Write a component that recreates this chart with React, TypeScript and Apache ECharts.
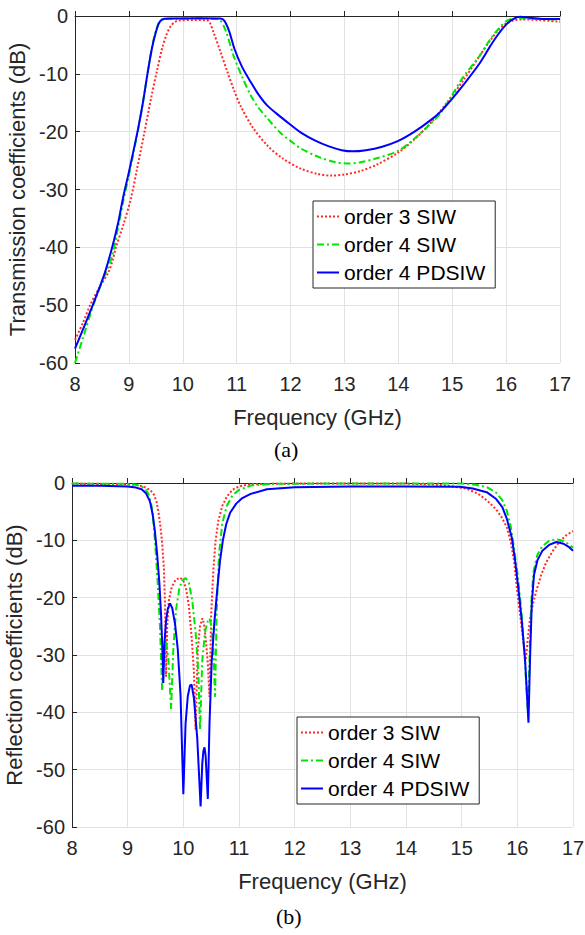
import React, { useEffect, useRef } from "react";
import * as echarts from "echarts";

// ---- Data: [frequency GHz, dB] ----
const seriesNames = ["order 3 SIW", "order 4 SIW", "order 4 PDSIW"];

const s21Order3: [number, number][] = [
  [8.0, -56], [8.15, -53], [8.28, -50], [8.45, -47], [8.62, -44.3], [8.69, -42.5], [8.76, -40], [8.9, -36],
  [9.04, -31.5], [9.15, -26.5], [9.28, -20.5], [9.41, -14.3], [9.52, -9.5], [9.62, -5.5], [9.7, -3.2],
  [9.78, -1.7], [9.86, -1.0], [9.95, -0.75], [10.2, -0.7], [10.45, -0.75], [10.5, -1.1], [10.57, -2.8],
  [10.7, -6.2], [10.83, -9.7], [10.95, -12.8], [11.07, -15.5], [11.3, -19.3], [11.57, -22.4], [11.85, -24.6],
  [12.19, -26.4], [12.5, -27.3], [12.74, -27.6], [13.0, -27.4], [13.3, -26.8], [13.6, -25.7], [14.0, -23.6],
  [14.3, -21.3], [14.6, -18.5], [14.9, -15.0], [15.2, -11.2], [15.5, -7.0], [15.7, -4.3], [15.85, -2.5],
  [16.0, -1.3], [16.15, -0.75], [16.3, -0.6], [16.6, -0.7], [17.0, -1.0],
];

const s21Order4: [number, number][] = [
  [8.0, -60], [8.17, -55], [8.34, -50], [8.5, -46], [8.69, -41.5], [8.8, -36.5], [8.9, -31.8], [9.0, -27.5],
  [9.16, -20.2], [9.26, -15], [9.35, -9.7], [9.43, -5.3], [9.5, -2.6], [9.56, -1.1], [9.62, -0.6],
  [9.75, -0.5], [10.3, -0.45], [10.62, -0.5], [10.7, -0.8], [10.8, -2.6], [10.94, -6.8], [11.1, -10.5],
  [11.26, -13.7], [11.4, -15.8], [11.57, -17.7], [11.81, -20.2], [12.0, -21.6], [12.19, -22.9], [12.5, -24.3],
  [12.8, -25.2], [13.05, -25.5], [13.3, -25.3], [13.6, -24.6], [14.0, -23.3], [14.3, -21.2], [14.6, -18.6],
  [14.8, -16.6], [15.0, -13.6], [15.2, -10.6], [15.5, -7.0], [15.7, -4.1], [15.85, -2.3], [16.0, -0.9],
  [16.12, -0.45], [16.25, -0.35], [16.5, -0.5], [17.0, -0.6],
];

const s21Pdsiw: [number, number][] = [
  [8.0, -57.5], [8.2, -53], [8.4, -48.3], [8.55, -44.5], [8.69, -40], [8.8, -35.8], [8.89, -31.5], [9.0, -27],
  [9.16, -20], [9.26, -15], [9.35, -9.7], [9.43, -5.5], [9.5, -2.8], [9.56, -1.2], [9.62, -0.6],
  [9.75, -0.45], [10.3, -0.4], [10.7, -0.45], [10.77, -0.8], [10.86, -2.6], [10.96, -5.7], [11.1, -8.8],
  [11.26, -11.4], [11.4, -13.5], [11.57, -15.5], [11.81, -17.4], [12.0, -18.8], [12.2, -20.2], [12.45, -21.5],
  [12.7, -22.5], [12.95, -23.2], [13.15, -23.4], [13.4, -23.2], [13.7, -22.6], [14.0, -21.6], [14.3, -20.0],
  [14.6, -18.0], [14.8, -16.4], [15.0, -14.3], [15.2, -12.0], [15.5, -8.3], [15.7, -5.3], [15.85, -3.2],
  [16.0, -1.5], [16.12, -0.6], [16.26, -0.15], [16.45, -0.3], [16.7, -0.5], [17.0, -0.5],
];

const s11Order3: [number, number][] = [
  [8.0, -0.1], [9.0, -0.2], [9.2, -0.4], [9.33, -0.8], [9.42, -1.4], [9.47, -2.0], [9.52, -3.3], [9.56, -5.5],
  [9.59, -7.7], [9.62, -10.5], [9.65, -14.7], [9.67, -21], [9.69, -33.8], [9.71, -25], [9.74, -20.5],
  [9.79, -18.2], [9.86, -16.9], [9.94, -16.5], [10.0, -17.0], [10.05, -18.5], [10.1, -21.5], [10.15, -27],
  [10.19, -33], [10.22, -43], [10.26, -29], [10.3, -25], [10.34, -23.6], [10.37, -24.5], [10.41, -28],
  [10.44, -31.5], [10.47, -37.3], [10.5, -23], [10.54, -15], [10.58, -10], [10.63, -6.5], [10.7, -4.0],
  [10.78, -2.4], [10.88, -1.2], [11.0, -0.6], [11.21, -0.2], [12.0, -0.1], [14.0, -0.1], [14.5, -0.25],
  [14.8, -0.55], [15.09, -1.0], [15.3, -1.9], [15.45, -3.0], [15.62, -4.6], [15.72, -6.0], [15.81, -7.7],
  [15.88, -10.2], [15.94, -13.5], [15.99, -18.2], [16.05, -23], [16.1, -27], [16.15, -30.9], [16.19, -27],
  [16.23, -23.5], [16.28, -21.1], [16.35, -18.5], [16.43, -16], [16.52, -13.8], [16.64, -11.8],
  [16.76, -10.2], [16.88, -9.1], [17.0, -8.4],
];

const s11Order4: [number, number][] = [
  [8.0, -0.1], [9.0, -0.15], [9.15, -0.3], [9.25, -0.6], [9.32, -1.1], [9.38, -2.0], [9.43, -4.0], [9.47, -7.5],
  [9.5, -11.5], [9.54, -17.5], [9.58, -25], [9.62, -36.2], [9.65, -30], [9.69, -27.5], [9.73, -30.5],
  [9.78, -39.4], [9.82, -29], [9.87, -22], [9.93, -18.3], [9.98, -17], [10.04, -16.6], [10.1, -17.4],
  [10.16, -20.5], [10.22, -26], [10.27, -33], [10.3, -43], [10.34, -31], [10.39, -26], [10.44, -24],
  [10.47, -23.6], [10.5, -24.8], [10.54, -29], [10.57, -37.3], [10.6, -22], [10.64, -12.5], [10.7, -7],
  [10.78, -4], [10.88, -2.2], [11.0, -1.2], [11.21, -0.45], [11.6, -0.15], [12.5, -0.1], [15.0, -0.1],
  [15.25, -0.3], [15.45, -0.7], [15.62, -1.7], [15.73, -3.0], [15.81, -4.8], [15.88, -7.5], [15.93, -10.6],
  [16.0, -15.5], [16.07, -22], [16.13, -30], [16.19, -40], [16.22, -30], [16.25, -21], [16.29, -15.5],
  [16.36, -12.5], [16.45, -11], [16.57, -10.1], [16.7, -9.8], [16.83, -10.1], [16.93, -10.7], [17.0, -11.3],
];

const s11Pdsiw: [number, number][] = [
  [8.0, -0.5], [8.5, -0.5], [9.0, -0.6], [9.15, -0.8], [9.25, -1.1], [9.33, -1.8], [9.4, -3.2], [9.45, -5.5],
  [9.49, -8.5], [9.53, -12.5], [9.57, -17.5], [9.6, -23], [9.62, -28], [9.64, -34.9], [9.66, -28],
  [9.69, -24], [9.72, -22], [9.76, -21.0], [9.8, -21.8], [9.85, -24.5], [9.9, -29], [9.95, -37],
  [10.0, -54.3], [10.04, -42], [10.08, -37.2], [10.12, -35.3], [10.15, -35.2], [10.19, -37.5], [10.25, -44.5],
  [10.31, -56.4], [10.34, -49], [10.36, -46.8], [10.38, -46.1], [10.4, -47.5], [10.44, -55.1], [10.47, -42],
  [10.51, -31], [10.56, -24], [10.61, -18.5], [10.66, -13.5], [10.71, -10.0], [10.77, -7.2], [10.84, -5.2],
  [10.95, -3.6], [11.05, -2.7], [11.21, -1.9], [11.5, -1.1], [12.0, -0.75], [13.0, -0.6], [14.0, -0.6],
  [14.97, -0.65], [15.2, -0.95], [15.45, -1.6], [15.62, -2.8], [15.73, -4.2], [15.81, -6.2], [15.9, -9.5],
  [15.96, -13.5], [16.02, -18.5], [16.08, -24], [16.14, -31], [16.2, -41.8], [16.23, -30], [16.26, -21],
  [16.3, -16], [16.36, -13.5], [16.45, -11.8], [16.57, -10.8], [16.7, -10.3], [16.83, -10.6],
  [16.93, -11.2], [17.0, -11.8],
];

const FONT = "Liberation Sans";
const AXIS_COLOR = "#262626";
const GRID_COLOR = "#e2e2e2";

const styles = [
  { color: "#ff2a2a", type: [2, 2] as number[] },
  { color: "#00e600", type: [7, 3, 2, 3] as number[] },
  { color: "#0000ff", type: "solid" as any },
];

function xAxisCfg(gridIndex: number, nameGap: number) {
  return {
    type: "value",
    gridIndex,
    min: 8,
    max: 17,
    interval: 1,
    name: "Frequency (GHz)",
    nameLocation: "middle",
    nameGap,
    nameTextStyle: { fontFamily: FONT, fontSize: 22, color: AXIS_COLOR },
    axisLine: { show: true, lineStyle: { color: AXIS_COLOR, width: 1 } },
    axisTick: { show: true, inside: true, length: 5, lineStyle: { color: AXIS_COLOR } },
    axisLabel: { fontFamily: FONT, fontSize: 20, color: AXIS_COLOR, margin: 11 },
    splitLine: { show: true, lineStyle: { color: GRID_COLOR, width: 1 } },
  };
}

function yAxisCfg(gridIndex: number, name: string, nameGap: number) {
  return {
    type: "value",
    gridIndex,
    min: -60,
    max: 0,
    interval: 10,
    name,
    nameLocation: "middle",
    nameRotate: 90,
    nameGap,
    nameTextStyle: { fontFamily: FONT, fontSize: 22, color: AXIS_COLOR },
    axisLine: { show: true, lineStyle: { color: AXIS_COLOR, width: 1 } },
    axisTick: { show: true, inside: true, length: 5, lineStyle: { color: AXIS_COLOR } },
    axisLabel: { fontFamily: FONT, fontSize: 20, color: AXIS_COLOR, margin: 7 },
    splitLine: { show: true, lineStyle: { color: GRID_COLOR, width: 1 } },
  };
}

function makeSeries(data: [number, number][], idx: number, axis: number) {
  return {
    type: "line",
    name: seriesNames[idx],
    data,
    xAxisIndex: axis,
    yAxisIndex: axis,
    showSymbol: false,
    symbol: "none",
    smooth: axis === 0 ? 0.3 : false,
    lineStyle: { color: styles[idx].color, width: 2, type: styles[idx].type },
    itemStyle: { color: styles[idx].color },
    z: 2 + idx,
  };
}

function legendCfg(left: number, top: number) {
  return {
    orient: "vertical",
    left,
    top,
    data: seriesNames,
    selectedMode: false,
    backgroundColor: "#ffffff",
    borderColor: AXIS_COLOR,
    borderWidth: 1,
    padding: [5, 10, 5, 3],
    itemGap: 7,
    itemWidth: 22,
    itemHeight: 14,
    itemStyle: { opacity: 0, borderWidth: 0 },
    textStyle: { fontFamily: FONT, fontSize: 21, color: "#000", lineHeight: 21 },
  };
}

export default function App() {
  const ref = useRef<HTMLDivElement>(null);

  useEffect(() => {
    document.body.style.margin = "0";
    if (!ref.current) return;
    const chart = echarts.init(ref.current, null, { renderer: "svg" });
    chart.setOption({
      animation: false,
      backgroundColor: "#ffffff",
      grid: [
        { left: 75, top: 16, width: 485, height: 347, containLabel: false, outerBoundsMode: "none" },
        { left: 72, top: 483, width: 501, height: 344, containLabel: false, outerBoundsMode: "none" },
      ],
      xAxis: [xAxisCfg(0, 43), xAxisCfg(1, 43)],
      yAxis: [
        yAxisCfg(0, "Transmission coefficients (dB)", 43),
        yAxisCfg(1, "Reflection coefficients (dB)", 41),
      ],
      legend: [legendCfg(313, 201), legendCfg(297, 717)],
      series: [
        makeSeries(s21Order3, 0, 0),
        makeSeries(s21Order4, 1, 0),
        makeSeries(s21Pdsiw, 2, 0),
        makeSeries(s11Order3, 0, 1),
        makeSeries(s11Order4, 1, 1),
        makeSeries(s11Pdsiw, 2, 1),
      ],
      graphic: [
        {
          type: "text",
          left: 274,
          top: 438,
          style: { text: "(a)", fontFamily: "Liberation Serif", fontSize: 22, fill: "#000" },
        },
        {
          type: "text",
          left: 276,
          top: 905,
          style: { text: "(b)", fontFamily: "Liberation Serif", fontSize: 22, fill: "#000" },
        },
      ],
    });
    return () => chart.dispose();
  }, []);

  return (
    <div
      ref={ref}
      style={{ position: "absolute", left: 0, top: 0, width: 585, height: 935, background: "#fff" }}
    />
  );
}
